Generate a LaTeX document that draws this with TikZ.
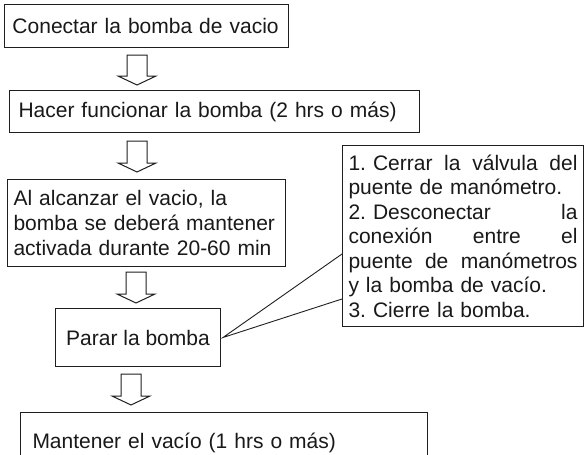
\documentclass[tikz,border=0pt]{standalone}
\usepackage{fontspec}
\setmainfont{Liberation Sans}
\frenchspacing
\newcommand{\jline}[1]{\leavevmode\hbox to 229pt{#1}}
\begin{document}
\begin{tikzpicture}[x=1pt,y=-1pt,
  font=\fontsize{21}{25}\selectfont,
  box/.style={draw=black!88, line width=1pt, anchor=north west, inner ysep=0pt, align=left, text=black!90},
  blockarrow/.style={draw=black!88, line width=1pt, fill=white, line join=miter},
  pointer/.style={draw=black!88, line width=0.9pt}]
\useasboundingbox (0,0) rectangle (584,455);
\clip (0,0) rectangle (584,455);
\fill[white] (0,0) rectangle (584,455);

\node[box, inner xsep=8pt, text width=268pt, minimum height=43pt] (b1) at (4,4) {Conectar la bomba de vacio};
\node[box, inner xsep=9pt, text width=392pt, minimum height=42pt] (b2) at (9,90) {Hacer funcionar la bomba (2 hrs o más)};
\node[box, inner xsep=6pt, text width=266pt, minimum height=87pt] (b3) at (7,179) {Al alcanzar el vacio, la\\bomba se deberá mantener\\activada durante 20-60 min};
\node[box, inner xsep=0pt, align=center, minimum width=165pt, minimum height=58pt] (b4) at (55,308) {Parar la bomba};
\node[box, inner xsep=12pt, text width=383pt, minimum height=60pt] (b5) at (20,412) {Mantener el vacío (1 hrs o más)};

\node[box, inner xsep=6pt, text width=229pt, minimum height=181pt, font=\fontsize{21}{24.5}\selectfont] (co) at (342,145) {%
\jline{1. Cerrar\hfill la\hfill válvula\hfill del}\\
puente de manómetro.\\
\jline{2. Desconectar\hfill la}\\
\jline{conexión\hfill entre\hfill el}\\
\jline{puente\hfill de\hfill manómetros}\\
y la bomba de vacío.\\
3. Cierre la bomba.};

% pointer of the callout
\coordinate (tip) at ([xshift=2pt]b4.east);
\draw[pointer] (co.west |- 0,254) -- (tip) -- (co.west |- 0,299);

% block arrows between the steps
\newcommand{\blockarr}[3]{%
  \draw[blockarrow] (#1-10,#2) -- (#1-10,#3-9) -- (#1-19,#3-9) -- (#1,#3) -- (#1+19,#3-9) -- (#1+10,#3-9) -- (#1+10,#2) -- cycle;}
\blockarr{137}{55}{85}
\blockarr{137}{141}{172}
\blockarr{136}{272}{303}
\blockarr{131}{374}{405}
\end{tikzpicture}
\end{document}
